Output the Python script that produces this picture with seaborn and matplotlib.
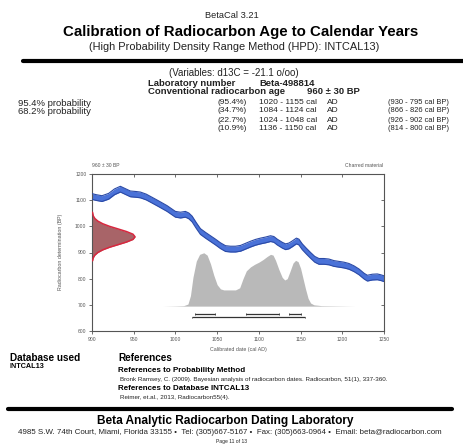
import numpy as np
import pandas as pd
import matplotlib
matplotlib.use("Agg")
import matplotlib.pyplot as plt
import seaborn as sns

# --- calibration curve (INTCAL13), cal AD vs radiocarbon BP ---
curve_year = [900, 905, 912, 920, 927, 934, 940, 946, 953, 958, 965, 972, 980, 990,
              1000, 1006, 1012, 1016, 1020, 1025, 1030, 1036, 1042, 1048, 1054, 1060,
              1066, 1072, 1078, 1084, 1090, 1096, 1102, 1108, 1114, 1118, 1122, 1128,
              1132, 1136, 1140, 1145, 1148, 1152, 1157, 1162, 1167, 1172, 1178, 1184,
              1190, 1196, 1202, 1208, 1214, 1220, 1226, 1230, 1236, 1242, 1246, 1250]
curve_bp = [1114, 1110, 1106, 1115, 1132, 1142, 1133, 1124, 1122, 1120, 1112, 1100, 1086, 1068,
            1046, 1043, 1046, 1040, 1028, 1003, 980, 966, 953, 940, 926, 915,
            913, 913, 916, 924, 932, 939, 944, 948, 953, 950, 940, 928,
            922, 925, 933, 944, 940, 922, 905, 889, 874, 866, 866, 864,
            858, 855, 852, 847, 838, 826, 810, 802, 806, 807, 804, 800]
curve_err = 11

# --- measured age distribution on the BP axis (width in years from the axis) ---
age_bp = [868, 880, 890, 900, 910, 920, 930, 940, 950, 960,
          970, 980, 990, 1000, 1010, 1020, 1030, 1040, 1054]
age_width = [0.6, 1.5, 3.4, 7.0, 12.8, 21.0, 31.3, 41.4, 49.1, 51.6,
             49.1, 41.4, 31.3, 21.0, 12.8, 7.0, 3.4, 1.5, 0.6]

# --- calibrated probability distribution (cal AD, relative height) ---
prob_year = [985, 1000, 1010, 1015, 1018, 1021, 1025, 1029, 1034, 1038, 1042, 1046,
             1050, 1054, 1058, 1065, 1072, 1077, 1081, 1085, 1090, 1095, 1100, 1105,
             1110, 1114, 1117, 1120, 1124, 1128, 1131, 1134, 1137, 1141, 1144, 1147,
             1150, 1153, 1156, 1159, 1162, 1166, 1175, 1195, 1215]
prob_height = [0, 1, 2, 8, 40, 110, 172, 198, 204, 195, 162, 118,
               82, 66, 62, 62, 62, 70, 105, 135, 150, 160, 168, 178,
               190, 198, 195, 175, 140, 110, 100, 105, 130, 165, 175, 170,
               145, 105, 65, 30, 12, 5, 2, 1, 0]
prob_base = 695

# --- HPD ranges ---
hpd68 = [(1024, 1048), (1084, 1124), (1136, 1150)]
hpd95 = [(1020, 1155)]

x_ticks = [900, 950, 1000, 1050, 1100, 1150, 1200, 1250]
y_ticks = [600, 700, 800, 900, 1000, 1100, 1200]

sns.set_style("ticks")
plt.rcParams["font.family"] = ["Liberation Sans", "DejaVu Sans"]

W, H = 463, 446
fig = plt.figure(figsize=(W / 100, H / 100), dpi=100)


def txt(x, y, s, size=7, weight="normal", ha="left", color="#222222", **kw):
    fig.text(x / W, 1 - y / H, s, fontsize=size, fontweight=weight, ha=ha,
             va="center", color=color, **kw)


def hline(y, x0, x1, lw):
    fig.add_artist(plt.Line2D([x0 / W, x1 / W], [1 - y / H, 1 - y / H],
                              color="black", linewidth=lw, transform=fig.transFigure))


# header
txt(232, 15, "BetaCal 3.21", 6.7, ha="center")
txt(241, 32, "Calibration of Radiocarbon Age to Calendar Years", 10.8, "bold", ha="center", color="black")
txt(234, 47, "(High Probability Density Range Method (HPD): INTCAL13)", 7.9, ha="center")
hline(61, 23, 463, 3.0)

txt(234, 73, "(Variables: d13C = -21.1 o/oo)", 7.0, ha="center")
txt(148, 83, "Laboratory number", 6.8, "bold")
txt(259, 83, "Beta-498814", 6.8, "bold")
txt(148, 92, "Conventional radiocarbon age", 6.8, "bold")
txt(307, 92, "960 ± 30 BP", 6.8, "bold")

txt(18, 103, "95.4% probability", 6.8)
txt(18, 111, "68.2% probability", 6.8)
rows = [("(95.4%)", "1020 - 1155 cal", "(930 - 795 cal BP)", 103),
        ("(34.7%)", "1084 - 1124 cal", "(866 - 826 cal BP)", 111),
        ("(22.7%)", "1024 - 1048 cal", "(926 - 902 cal BP)", 120),
        ("(10.9%)", "1136 - 1150 cal", "(814 - 800 cal BP)", 129)]
for p, ad, bp, y in rows:
    txt(217, y, p, 6.0)
    txt(259, y, ad, 6.0)
    txt(327, y, "AD", 6.0)
    txt(388, y, bp, 5.4)

# calibration plot
ax = fig.add_axes([92 / W, (H - 331) / H, (384 - 92) / W, (331 - 174) / H])
ax.set_xlim(900, 1250)
ax.set_ylim(600, 1200)

# calibrated probability
prob = pd.DataFrame({"year": prob_year, "h": prob_height})
ax.fill_between(prob["year"], prob_base, prob_base + prob["h"], color="#b9b9b9",
                linewidth=0, zorder=1)

# calibration curve band
cur = pd.DataFrame({"year": curve_year, "bp": curve_bp})
ax.fill_between(cur["year"], cur["bp"] - curve_err, cur["bp"] + curve_err,
                color="#4a72d8", linewidth=0, zorder=2)
sns.lineplot(x=cur["year"], y=cur["bp"] + curve_err, ax=ax, color="#2b4aa6",
             linewidth=0.8, zorder=3)
sns.lineplot(x=cur["year"], y=cur["bp"] - curve_err, ax=ax, color="#2b4aa6",
             linewidth=0.8, zorder=3)

# measured radiocarbon age
age = pd.DataFrame({"bp": age_bp, "w": age_width})
ax.fill_betweenx(age["bp"], 900, 900 + age["w"], color="#a86468", linewidth=0, zorder=2)
ax.plot(900 + age["w"], age["bp"], color="#d8283f", linewidth=1.1, zorder=3)

# HPD range bars
for lo, hi in hpd68:
    ax.hlines(665, lo, hi, color="#333333", linewidth=0.9, zorder=4)
    ax.vlines([lo, hi], 662, 668, color="#333333", linewidth=0.6, zorder=4)
for lo, hi in hpd95:
    ax.hlines(652, lo, hi, color="#333333", linewidth=0.9, zorder=4)
    ax.vlines([lo, hi], 649, 655, color="#333333", linewidth=0.6, zorder=4)

ax.set_xticks(x_ticks)
ax.set_yticks(y_ticks)
ax.set_xticklabels([str(v) for v in x_ticks])
ax.set_yticklabels([str(v) for v in y_ticks])
ax.tick_params(axis="both", labelsize=3.6, labelcolor="#555555", length=2.5,
               width=0.6, color="#555555", pad=1.5)
ax.tick_params(which="both", top=True, right=True, direction="out")
for t in ax.xaxis.get_major_ticks():
    t.tick2line.set_marker(3)  # top ticks point inward
for t in ax.yaxis.get_major_ticks():
    t.tick2line.set_marker(0)  # right ticks point inward
for s in ax.spines.values():
    s.set_visible(True)
    s.set_color("#555555")
    s.set_linewidth(0.8)
ax.set_xlabel("")
ax.set_ylabel("")

txt(92, 165, "960 ± 30 BP", 3.6, color="#555555")
txt(383, 165, "Charred material", 3.6, ha="right", color="#555555")
txt(238, 350, "Calibrated date (cal AD)", 3.8, ha="center", color="#555555")
fig.text(60 / W, 1 - 252 / H, "Radiocarbon determination (BP)", fontsize=3.8,
         rotation=90, ha="center", va="center", color="#555555")

# footer
txt(10, 358, "Database used", 7.2, "bold", color="black")
txt(10, 367, "INTCAL13", 5.2, "bold", color="black")
txt(118, 358, "References", 7.2, "bold", color="black")
txt(118, 370, "References to Probability Method", 5.8, "bold", color="black")
txt(120, 379, "Bronk Ramsey, C. (2009). Bayesian analysis of radiocarbon dates. Radiocarbon, 51(1), 337-360.", 4.5)
txt(118, 389, "References to Database INTCAL13", 5.8, "bold", color="black")
txt(120, 397, "Reimer, et.al., 2013, Radiocarbon55(4).", 4.5)
hline(409, 8, 452, 3.0)

txt(225, 421, "Beta Analytic Radiocarbon Dating Laboratory", 8.6, "bold", ha="center", color="black")
txt(230, 433, "4985 S.W. 74th Court, Miami, Florida 33155 \u2022  Tel: (305)667-5167 \u2022  Fax: (305)663-0964 \u2022  Email: beta@radiocarbon.com",
    5.7, ha="center")
txt(232, 441, "Page 11 of 13", 3.6, ha="center")

fig.savefig("out.png", dpi=100, facecolor="white")
